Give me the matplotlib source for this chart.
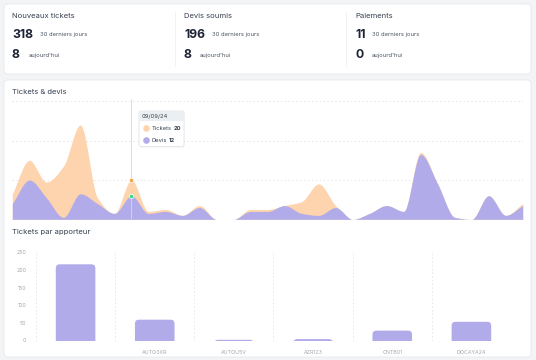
import numpy as np
import matplotlib
matplotlib.use("Agg")
import matplotlib.pyplot as plt
from matplotlib.patches import FancyBboxPatch, Rectangle

# ---------------- data ----------------
kpi_titles = ["Nouveaux tickets", "Devis soumis", "Paiements"]
kpi_30d = [318, 196, 11]
kpi_today = [8, 8, 0]

tickets = [13, 30, 19, 27, 48, 11, 3, 20, 4, 5, 2, 7, 0, 0, 5, 5, 7, 9, 18, 7, 0, 3, 7, 4, 34, 18, 1, 0, 12, 2, 8]
devis = [8, 20, 11, 1, 13, 8, 3, 12, 3, 4, 2, 6, 0, 0, 4, 4, 7, 3, 2, 6, 0, 3, 7, 4, 33, 18, 1, 0, 12, 2, 7]
hover_index = 7
hover_label = "09/09/24"

apporteurs = ["", "AUTO3XR", "AUTOU5V", "AZR123", "CNTB01", "DOCAYA24"]
apporteur_tickets = [216, 59, 2, 4, 28, 53]
bar_yticks = [0, 50, 100, 150, 200, 250]

# ---------------- style ----------------
W, H = 536, 360
FONT = ["Inter", "DejaVu Sans"]
plt.rcParams["font.family"] = FONT
C_BG = "#f3f4f6"
C_CARD = "#ffffff"
C_BORDER = "#e6e8ec"
C_TITLE = "#374151"
C_NUM = "#1e2235"
C_SMALL = "#4b5563"
C_GRID = "#e3e5e8"
C_TICK = "#a3a8b0"
C_TICKETS = "#fdd4ad"
C_DEVIS = "#b1ace9"

fig = plt.figure(figsize=(W / 100, H / 100), dpi=100, facecolor=C_BG)
renderer = fig.canvas.get_renderer()


def px_axes(x0, y0, x1, y1):
    return fig.add_axes([x0 / W, 1 - y1 / H, (x1 - x0) / W, (y1 - y0) / H])


bg = fig.add_axes([0, 0, 1, 1])
bg.set_xlim(0, W)
bg.set_ylim(H, 0)
bg.axis("off")
bg.set_zorder(-5)

for (x0, y0, x1, y1) in [(4, 4, 531, 74), (4, 80, 531, 357)]:
    bg.add_patch(FancyBboxPatch((x0, y0), x1 - x0, y1 - y0,
                                boxstyle="round,pad=0,rounding_size=4",
                                fc=C_CARD, ec=C_BORDER, lw=0.6))

# KPI card
col_x = [12, 184, 355]
small_x30 = [40, 212, 372]
small_xt = [29, 200, 372]
for i in range(3):
    bg.text(col_x[i], 16, kpi_titles[i], fontsize=5.5, color=C_TITLE, va="center", ha="left")
    bg.text(col_x[i], 34.5, str(kpi_30d[i]), fontsize=8.8, fontweight="bold", color=C_NUM, va="center", ha="left")
    bg.text(small_x30[i], 34.5, "30 derniers jours", fontsize=4.2, color=C_SMALL, va="center", ha="left")
    bg.text(col_x[i], 55.5, str(kpi_today[i]), fontsize=8.8, fontweight="bold", color=C_NUM, va="center", ha="left")
    bg.text(small_xt[i], 55.5, "aujourd'hui", fontsize=4.2, color=C_SMALL, va="center", ha="left")
for sx in [175, 346]:
    bg.plot([sx, sx], [12, 66], color="#eef0f2", lw=0.6)

bg.text(12, 92.5, "Tickets & devis", fontsize=5.5, color=C_TITLE, va="center", ha="left")
bg.text(12, 232, "Tickets par apporteur", fontsize=5.5, color=C_TITLE, va="center", ha="left")


# ---------------- area chart ----------------
def pchip(y, n=24):
    y = np.asarray(y, float)
    x = np.arange(len(y), dtype=float)
    h = np.diff(x)
    d = np.diff(y) / h
    m = np.zeros_like(y)
    for k in range(1, len(y) - 1):
        if d[k - 1] * d[k] <= 0:
            m[k] = 0
        else:
            w1 = 2 * h[k] + h[k - 1]
            w2 = h[k] + 2 * h[k - 1]
            m[k] = (w1 + w2) / (w1 / d[k - 1] + w2 / d[k])
    m[0] = d[0]
    m[-1] = d[-1]
    xs, ys = [], []
    for k in range(len(y) - 1):
        t = np.linspace(0, 1, n, endpoint=False)
        h00 = 2 * t**3 - 3 * t**2 + 1
        h10 = t**3 - 2 * t**2 + t
        h01 = -2 * t**3 + 3 * t**2
        h11 = t**3 - t**2
        xs.append(x[k] + t * h[k])
        ys.append(h00 * y[k] + h10 * h[k] * m[k] + h01 * y[k + 1] + h11 * h[k] * m[k + 1])
    xs.append([x[-1]])
    ys.append([y[-1]])
    return np.concatenate(xs), np.clip(np.concatenate(ys), 0, None)


ymax = 61
ax = px_axes(12.3, 219.3 - ymax * 1.965, 522.7, 219.3)
ax.set_facecolor("none")
ax.set_xlim(0, len(tickets) - 1)
ax.set_ylim(0, ymax)
for g in [20, 40, 60]:
    ax.axhline(g, color=C_GRID, lw=0.7, ls=(0, (1.5, 2.5)), zorder=0)
xt, yt = pchip(tickets)
xd, yd = pchip(devis)
ax.fill_between(xt, 0, yt, color=C_TICKETS, lw=0, zorder=1)
ax.fill_between(xd, 0, yd, color=C_DEVIS, lw=0, zorder=2)
ax.axvline(hover_index, color="#d5d8dc", lw=0.6, zorder=3)
ax.scatter([hover_index], [tickets[hover_index]], s=9, color="#f5a13c", ec="white", lw=0.5, zorder=5)
ax.scatter([hover_index], [devis[hover_index]], s=9, color="#2fdc86", ec="white", lw=0.5, zorder=5)
ax.axis("off")

# tooltip (pixel coords on overlay axes)
tip = fig.add_axes([0, 0, 1, 1])
tip.set_xlim(0, W)
tip.set_ylim(H, 0)
tip.axis("off")
tip.add_patch(FancyBboxPatch((139.6, 111.8), 45, 36, boxstyle="round,pad=0,rounding_size=2",
                             fc="#0000000a", ec="none", zorder=9))
tip.add_patch(FancyBboxPatch((139, 111), 45, 35.5, boxstyle="round,pad=0,rounding_size=2",
                             fc="white", ec="#e1e4e8", lw=0.6, zorder=10))
tip.add_patch(Rectangle((139.3, 111.3), 44.4, 9.7, fc="#eceff1", ec="none", zorder=11))
tip.text(142, 116.3, hover_label, fontsize=4.2, color="#374151", va="center", ha="left", zorder=12)
for yy, col, lab, val in [(128.3, C_TICKETS, "Tickets", tickets[hover_index]),
                          (140, C_DEVIS, "Devis", devis[hover_index])]:
    tip.scatter([145.7], [yy], s=14, color=col, zorder=12)
    t1 = tip.text(151.5, yy, f"{lab}", fontsize=4.2, color="#374151", va="center", ha="left", zorder=12)
    wpx = t1.get_window_extent(renderer=renderer).width
    tip.text(151.5 + wpx + 1.8, yy, str(val), fontsize=4.2,
             fontweight="bold", color="#374151", va="center", ha="left", zorder=12)

# ---------------- bar chart ----------------
bx = px_axes(36, 252.3, 511, 340.5)
bx.set_facecolor("none")
n = len(apporteurs)
bx.set_xlim(-0.5, n - 0.5)
bx.set_ylim(0, 250)
for k in range(n + 1):
    bx.axvline(k - 0.5, color=C_GRID, lw=0.6, ls=(0, (2, 2.5)), zorder=0)
bars = bx.bar(range(n), apporteur_tickets, width=0.5, color=C_DEVIS, zorder=2)
# round top corners
px_per_x = 475 / n
px_per_y = 88.2 / 250
aspect = (1 / px_per_y) / (1 / px_per_x)
for b in bars:
    b.set_visible(False)
    x0, hgt, wid = b.get_x(), b.get_height(), b.get_width()
    r = 0.05
    p = FancyBboxPatch((x0, -30), wid, hgt + 30, boxstyle=f"round,pad=0,rounding_size={r}",
                       mutation_aspect=aspect, fc=C_DEVIS, ec="none", zorder=2)
    bx.add_patch(p)
bx.set_xticks(range(n))
bx.set_xticklabels(apporteurs, fontsize=3.8, color=C_TICK)
bx.set_yticks(bar_yticks)
bx.set_yticklabels([str(v) for v in bar_yticks], fontsize=3.8, color=C_TICK)
bx.tick_params(length=0, pad=7)
bx.tick_params(axis="x", pad=7)
for s in bx.spines.values():
    s.set_visible(False)

fig.savefig("out.png", dpi=100, facecolor=C_BG)
